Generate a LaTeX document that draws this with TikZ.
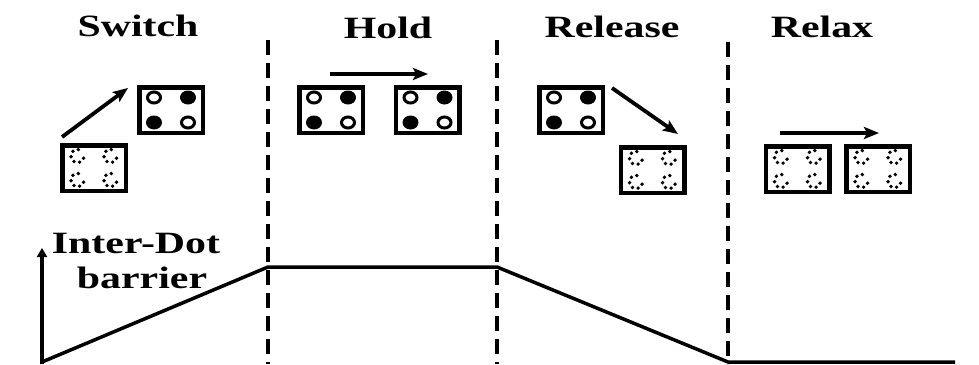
\documentclass[tikz,border=0pt]{standalone}
\usepackage{fontspec}
\setmainfont{Liberation Serif}[FakeStretch=1.35]
\usetikzlibrary{arrows.meta}
\tikzset{
  qbox/.style={draw, line width=4.5pt, minimum width=63.5pt, minimum height=45.5pt, inner sep=0pt, fill=white},
  ttl/.style={font=\fontsize{31}{33}\selectfont\bfseries, anchor=base, inner sep=0pt},
  mvarrow/.style={line width=3.8pt, -{Stealth[length=15pt,width=12pt,inset=3pt]}},
  divider/.style={line width=4.5pt, dash pattern=on 15pt off 8pt},
  curve/.style={line width=3.5pt, line join=round},
  axis/.style={line width=3.5pt, -{Triangle[length=9pt,width=10pt]}},
}
\newcommand\qdfull[2]{%
  \node[qbox] (#1) at #2 {};
  \fill (#1.center) ++(17,-12.5) ellipse [x radius=8, y radius=7];
  \fill (#1.center) ++(-17,12.5) ellipse [x radius=8, y radius=7];
  \draw[line width=3pt, fill=white] (#1.center) ++(-17,-12.5) ellipse [x radius=6.5, y radius=5.5];
  \draw[line width=3pt, fill=white] (#1.center) ++(17,12.5) ellipse [x radius=6.5, y radius=5.5];
}
\newcommand\qdempty[2]{%
  \node[qbox] (#1) at #2 {};
  \foreach \dx/\dy in {-16.5/-12, 16.5/-12, -16.5/12, 16.5/12}{%
    \foreach \a in {0,51.43,...,308}{%
      \fill (#1.center) ++(\dx,\dy) ++(\a+20:6.5) circle (1.9);
    }
  }
}
\begin{document}
\begin{tikzpicture}[x=1pt, y=-1pt]
\useasboundingbox (0,0) rectangle (979,364);

% titles
\node[ttl] (tsw) at (138,36) {Switch};
\node[ttl] (tho) at (388,38) {Hold};
\node[ttl] (tre) at (612,37) {Release};
\node[ttl] (trx) at (822,37) {Relax};

% dividers
\coordinate (d1t) at (268,40); \coordinate (d1b) at (268,364);
\coordinate (d2t) at (497,40); \coordinate (d2b) at (497,364);
\coordinate (d3t) at (728,42); \coordinate (d3b) at (728,364);
\draw[divider] (d1t) -- (d1b);
\draw[divider] (d2t) -- (d2b);
\draw[divider] (d3t) -- (d3b);

% Switch
\qdempty{swE}{(94,168)}
\qdfull{swF}{(171,110)}
\coordinate (swA) at (62,137); \coordinate (swB) at (128,88);
\draw[mvarrow] (swA) -- (swB);

% Hold
\qdfull{hoA}{(331,110)}
\qdfull{hoB}{(427.5,110)}
\coordinate (hoS) at (330,74); \coordinate (hoE) at (428,74);
\draw[mvarrow] (hoS) -- (hoE);

% Release
\qdfull{reF}{(571,110)}
\qdempty{reE}{(652.5,170)}
\coordinate (reS) at (612,88); \coordinate (reE2) at (678,134);
\draw[mvarrow] (reS) -- (reE2);

% Relax
\qdempty{rxA}{(797.5,169)}
\qdempty{rxB}{(878,169)}
\coordinate (rxS) at (780,133); \coordinate (rxE) at (879,133);
\draw[mvarrow] (rxS) -- (rxE);

% barrier plot
\node[ttl] (lb1) at (136,253) {Inter-Dot};
\node[ttl] (lb2) at (142,288) {barrier};
\coordinate (o) at (42,364);
\coordinate (ytop) at (42,248);
\draw[axis] (o) -- (ytop);
\coordinate (p0) at (42,362);
\coordinate (p1) at (268,267);
\coordinate (p2) at (497,267);
\coordinate (p3) at (728,362);
\coordinate (p4) at (955,362);
\draw[curve] (p0) -- (p1) -- (p2) -- (p3) -- (p4);
\end{tikzpicture}
\end{document}
